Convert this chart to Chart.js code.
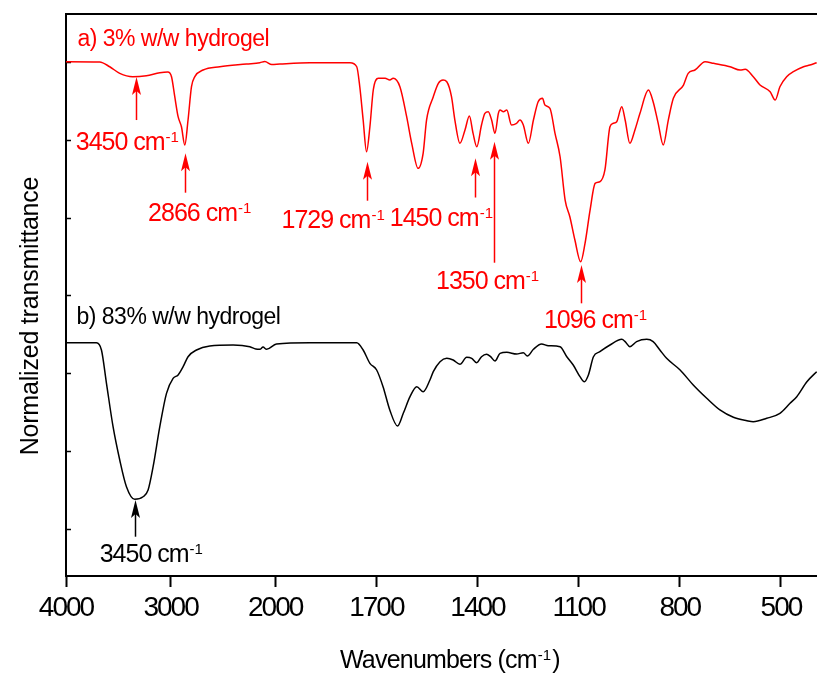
<!DOCTYPE html>
<html><head><meta charset="utf-8">
<script src="https://cdn.jsdelivr.net/npm/chart.js@4.4.0/dist/chart.umd.min.js"></script>
<style>html,body{margin:0;padding:0;background:#fff}canvas{display:block}</style>
</head><body>
<canvas id="c" width="817" height="681"></canvas>
<script>
// ---------- data (wavenumbers in cm-1, normalized transmittance in arbitrary offset units) ----------
const xTickLabels = [4000, 3000, 2000, 1700, 1400, 1100, 800, 500];
const yTickValues = [0.6, 1.6, 2.6, 3.6, 4.6, 5.6, 6.6];

const redWavenumbers = [4000,3678,3582,3486,3362,3231,3103,3027,2991,2960,2928,2896,2864,2833,2800,2768,2689,2529,2274,2146,2099,2032,1986,1897,1778,1758,1749,1739,1729,1719,1709,1694,1674,1660,1650,1630,1610,1595,1576,1561,1551,1531,1516,1502,1491,1477,1467,1452,1437,1424,1413,1402,1388,1378,1368,1358,1348,1338,1333,1323,1313,1299,1284,1274,1264,1249,1234,1220,1207,1200,1185,1170,1155,1140,1126,1111,1094,1081,1066,1051,1037,1022,1007,997,987,972,962,948,933,918,893,879,864,849,834,819,789,775,755,725,700,651,621,606,582,562,532,517,503,483,463,433,414,394];
const redValues = [6.611,6.607,6.546,6.461,6.418,6.431,6.469,6.478,6.418,6.161,5.904,5.775,5.540,5.861,6.289,6.418,6.504,6.546,6.581,6.598,6.613,6.574,6.581,6.598,6.598,6.546,6.289,5.861,5.454,5.775,6.247,6.397,6.397,6.375,6.397,6.289,5.904,5.562,5.240,5.437,5.861,6.161,6.333,6.375,6.353,6.161,5.861,5.562,5.733,5.913,5.690,5.518,5.797,5.947,5.968,5.861,5.690,5.947,5.990,5.968,5.990,5.797,5.819,5.861,5.797,5.562,5.861,6.096,6.140,6.054,6.012,5.690,5.389,4.833,4.618,4.319,4.040,4.276,4.704,5.047,5.068,5.219,5.775,5.819,5.839,6.032,5.861,5.562,5.733,5.947,6.247,6.096,5.819,5.540,5.861,6.140,6.311,6.461,6.504,6.611,6.590,6.546,6.504,6.513,6.418,6.311,6.225,6.118,6.289,6.418,6.482,6.546,6.568,6.598];

const blackWavenumbers = [4000,3709,3661,3613,3550,3486,3422,3343,3263,3215,3167,3103,3039,2976,2928,2880,2833,2752,2625,2402,2242,2185,2146,2116,2082,1996,1897,1758,1739,1719,1699,1680,1660,1637,1620,1600,1580,1561,1541,1531,1511,1491,1472,1452,1432,1417,1402,1388,1373,1361,1348,1333,1313,1284,1264,1252,1234,1210,1190,1155,1135,1116,1096,1083,1071,1056,1037,1007,972,962,948,928,898,879,859,839,799,760,720,681,641,601,582,542,503,473,453,423,394];
const blackValues = [2.999,2.999,2.905,2.477,1.919,1.491,1.148,0.986,1.019,1.105,1.405,1.919,2.348,2.541,2.584,2.690,2.819,2.905,2.956,2.969,2.947,2.918,2.914,2.943,2.914,2.982,2.999,2.999,2.905,2.734,2.648,2.433,2.134,1.928,2.091,2.305,2.433,2.369,2.519,2.626,2.755,2.798,2.776,2.721,2.811,2.798,2.742,2.819,2.850,2.819,2.763,2.862,2.875,2.853,2.870,2.828,2.914,2.982,2.960,2.947,2.819,2.712,2.562,2.497,2.584,2.819,2.883,2.969,3.042,3.012,2.947,3.012,3.042,3.012,2.905,2.798,2.648,2.455,2.284,2.134,2.040,1.996,1.983,2.027,2.091,2.220,2.305,2.497,2.626];

const seriesNames = ['a) 3% w/w hydrogel', 'b) 83% w/w hydrogel'];
const peakLabels = ['3450', '2866', '1729', '1450', '1350', '1096', '3450'];
const peakArrowWavenumbers = [3333, 2864, 1728, 1408, 1351, 1094, 3343];

// ---------- broken wavenumber axis (4000-2000 compressed, 2000-400 expanded) ----------
const START_W = 4000, BREAK_W = 2000, END_W = 393, K = 3.2242;
function u(w) { return w >= BREAK_W ? START_W - w : (START_W - BREAK_W) + (BREAK_W - w) * K; }

// annotation layout (text anchor in wavenumber / value coords, arrow tip & tail values)
const RED = '#ff0000', BLK = '#000000';
const peakLayout = [
  {color: RED, textW: 3907, textV: 5.482, tip: 6.414, tail: 5.861},
  {color: RED, textW: 3215, textV: 4.567, tip: 5.433, tail: 4.927},
  {color: RED, textW: 1981, textV: 4.469, tip: 5.325, tail: 4.824},
  {color: RED, textW: 1660, textV: 4.499, tip: 5.369, tail: 4.865},
  {color: RED, textW: 1523, textV: 3.689, tip: 5.582, tail: 4.027},
  {color: RED, textW: 1203, textV: 3.184, tip: 3.997, tail: 3.505},
  {color: BLK, textW: 3678, textV: 0.184, tip: 0.977, tail: 0.505}
];
const nameLayout = [
  {color: RED, textW: 3891, textV: 6.812},
  {color: BLK, textW: 3900, textV: 3.239}
];

const FONT = '"Liberation Sans", Arial, Helvetica, sans-serif';

function drawSupText(ctx, x, y, main, sup, tail, size, supSize, ls) {
  ctx.letterSpacing = ls + 'px';
  ctx.font = size + 'px ' + FONT;
  ctx.textAlign = 'left';
  ctx.textBaseline = 'alphabetic';
  ctx.fillText(main, x, y);
  let cx = x + ctx.measureText(main).width + 1;
  ctx.letterSpacing = '0px';
  ctx.font = supSize + 'px ' + FONT;
  ctx.fillText(sup, cx, y - 8);
  cx += ctx.measureText(sup).width + 1;
  if (tail) {
    ctx.font = size + 'px ' + FONT;
    ctx.fillText(tail, cx, y);
  }
}

const annot = {
  id: 'annot',
  beforeDraw(chart) { chart.ctx.letterSpacing = '-2px'; },
  afterDraw(chart) {
    const {ctx, chartArea: a, scales: {x, y}} = chart;
    ctx.save();
    ctx.letterSpacing = '0px';
    // top frame line
    ctx.strokeStyle = '#000'; ctx.lineWidth = 2;
    ctx.beginPath(); ctx.moveTo(a.left - 1, a.top); ctx.lineTo(a.right, a.top); ctx.stroke();

    // series names
    nameLayout.forEach((n, i) => {
      ctx.fillStyle = n.color;
      ctx.letterSpacing = '-0.5px';
      ctx.font = '23px ' + FONT;
      ctx.textAlign = 'left'; ctx.textBaseline = 'alphabetic';
      ctx.fillText(seriesNames[i], x.getPixelForValue(u(n.textW)), y.getPixelForValue(n.textV));
    });

    // peak arrows + labels
    peakLayout.forEach((p, i) => {
      const px = Math.round(x.getPixelForValue(u(peakArrowWavenumbers[i]))) + 0.5;
      const tipY = y.getPixelForValue(p.tip);
      const tailY = y.getPixelForValue(p.tail);
      ctx.strokeStyle = p.color; ctx.fillStyle = p.color; ctx.lineWidth = 1.5;
      ctx.beginPath(); ctx.moveTo(px, tailY); ctx.lineTo(px, tipY + 12); ctx.stroke();
      ctx.beginPath();
      ctx.moveTo(px, tipY);
      ctx.lineTo(px - 4.5, tipY + 18);
      ctx.lineTo(px, tipY + 14);
      ctx.lineTo(px + 4.5, tipY + 18);
      ctx.closePath(); ctx.fill();
      drawSupText(ctx, x.getPixelForValue(u(p.textW)), y.getPixelForValue(p.textV),
        peakLabels[i] + ' cm', '-1', '', 25, 15, -1);
    });

    // axis titles
    ctx.fillStyle = '#000';
    drawSupText(ctx, 340, 668, 'Wavenumbers (cm', '-1', ')', 25, 15, -0.8);
    ctx.save();
    ctx.translate(38, 316);
    ctx.rotate(-Math.PI / 2);
    ctx.letterSpacing = '-0.2px';
    ctx.font = '25px ' + FONT;
    ctx.textAlign = 'center'; ctx.textBaseline = 'alphabetic';
    ctx.fillText('Normalized transmittance', 0, 0);
    ctx.restore();
    ctx.restore();
  }
};

new Chart(document.getElementById('c').getContext('2d'), {
  type: 'line',
  data: {
    datasets: [
      {label: seriesNames[0], data: redWavenumbers.map((w, i) => ({x: u(w), y: redValues[i]})),
       borderColor: RED, borderWidth: 1.5, pointRadius: 0, cubicInterpolationMode: 'monotone', fill: false},
      {label: seriesNames[1], data: blackWavenumbers.map((w, i) => ({x: u(w), y: blackValues[i]})),
       borderColor: BLK, borderWidth: 1.5, pointRadius: 0, cubicInterpolationMode: 'monotone', fill: false}
    ]
  },
  options: {
    responsive: false, animation: false, devicePixelRatio: 1,
    layout: {padding: {top: 14, right: 0, bottom: 0, left: 0}},
    plugins: {legend: {display: false}, tooltip: {enabled: false}},
    scales: {
      x: {
        type: 'linear', min: u(START_W), max: u(END_W),
        afterBuildTicks(s) { s.ticks = xTickLabels.map(w => ({value: u(w)})); },
        afterFit(s) { s.height = 105; },
        ticks: {autoSkip: false, maxRotation: 0, minRotation: 0, padding: 4, color: '#000',
                font: {family: FONT, size: 28},
                callback: (v, i) => String(xTickLabels[i])},
        grid: {drawOnChartArea: false, drawTicks: true, tickLength: 11, tickWidth: 2, tickColor: '#000'},
        border: {display: true, color: '#000', width: 2}
      },
      y: {
        type: 'linear', min: 0, max: 7.224,
        afterBuildTicks(s) { s.ticks = yTickValues.map(v => ({value: v})); },
        afterFit(s) { s.width = 66; },
        ticks: {display: false},
        grid: {drawOnChartArea: false, drawTicks: true, tickLength: -5, tickWidth: 1.5, tickColor: '#000'},
        border: {display: true, color: '#000', width: 2}
      }
    }
  },
  plugins: [annot]
});
</script>
</body></html>
